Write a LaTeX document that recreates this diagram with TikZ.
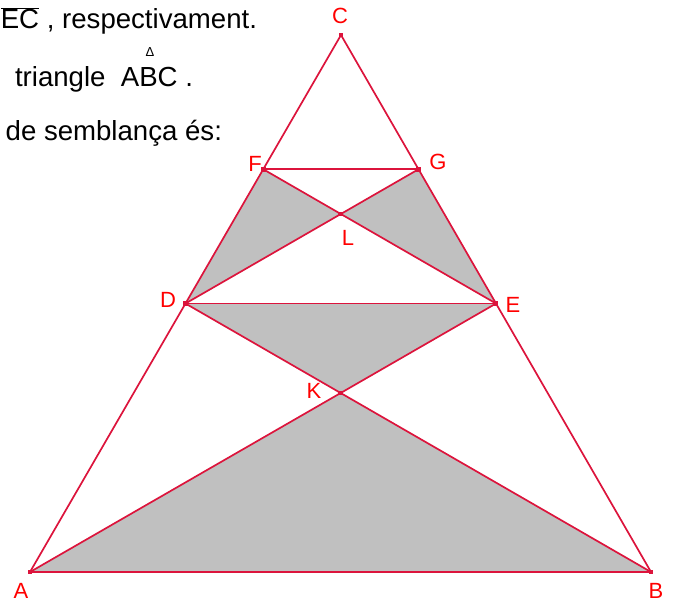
\documentclass[tikz,border=0pt]{standalone}
\usepackage{fontspec}
\setmainfont{Liberation Sans}
\usetikzlibrary{calc}
\definecolor{edgered}{RGB}{220,20,60}
\definecolor{labelred}{RGB}{255,0,0}
\definecolor{shadegray}{RGB}{192,192,192}

\begin{document}
\begin{tikzpicture}[x=1pt, y=-1pt, line join=round,
    every node/.style={inner sep=0pt, outer sep=0pt},
    lbl/.style={text=labelred, font=\fontsize{22}{26}\selectfont},
    txt/.style={font=\fontsize{27.6}{33}\selectfont, anchor=base east}]
  \useasboundingbox (0,0) rectangle (674,602);
  \clip (0,0) rectangle (674,602);
  % vertices
  \coordinate (A) at (30,572);
  \coordinate (B) at (651,572);
  \coordinate (C) at (341,35);
  \coordinate (D) at ($(A)!0.5!(C)$);
  \coordinate (F) at ($(A)!0.75!(C)$);
  \coordinate (E) at ($(B)!0.5!(C)$);
  \coordinate (G) at ($(B)!0.75!(C)$);
  \coordinate (K) at (intersection of A--E and B--D);
  \coordinate (L) at (intersection of D--G and F--E);
  % shaded triangles
  \foreach \p/\q/\r in {A/K/B,D/K/E,F/L/D,G/L/E}{\fill[shadegray] (\p) -- (\q) -- (\r) -- cycle;}
  % segments
  \foreach \p/\q in {A/B,B/C,C/A,D/E,F/G,A/E,B/D,D/G,F/E}{\draw[edgered, line width=1.7pt] (\p) -- (\q);}
  \foreach \p in {A,B,C,D,E,F,G,K,L}{\fill[edgered] ($(\p)+(-2.4,-2.4)$) rectangle ($(\p)+(2.4,2.4)$);}
  % labels
  \node[lbl] (labC) at (340,16) {C};
  \node[lbl] (labF) at (255,164) {F};
  \node[lbl] (labG) at (438,162) {G};
  \node[lbl] (labL) at (348,238) {L};
  \node[lbl] (labD) at (168,300) {D};
  \node[lbl] (labE) at (513,305) {E};
  \node[lbl] (labK) at (314,391) {K};
  \node[lbl] (labA) at (21,591) {A};
  \node[lbl] (labB) at (656,591) {B};
  % text
  \node[txt] (line1) at (257,29) {$\overline{\mbox{EC}}$ , respectivament.};
  \node[txt] (line2) at (193,86) {triangle\ \ ABC .};
  \node[font=\fontsize{13}{15}\selectfont] (delta) at (150,52) {Δ};
  \node[txt] (line3) at (222,140) {de semblança és:};
\end{tikzpicture}
\end{document}
